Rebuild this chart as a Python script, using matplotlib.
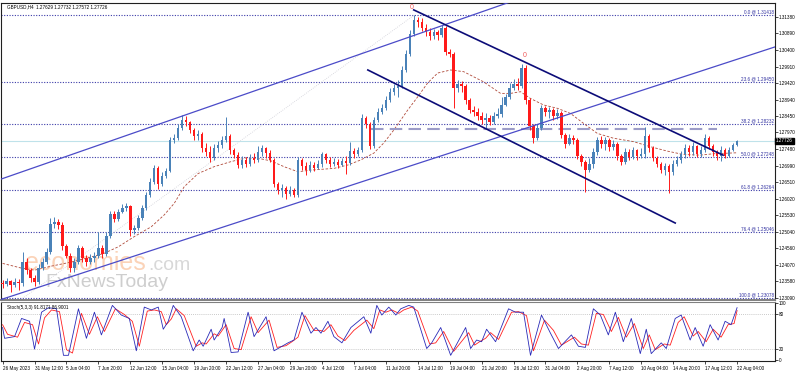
import matplotlib
matplotlib.use("Agg")
import matplotlib.pyplot as plt
import numpy as np

plt.rcParams['font.family'] = ['Liberation Sans', 'DejaVu Sans']

# header texts
symbol_text = "GBPUSD,H4  1.27629 1.27732 1.27572 1.27726"
stoch_text = "Stoch(5,3,3) 91.8171 86.9001"

# candles (each one spans 2 H4 bars), open = previous close
first_open = 1.2353
closes = [
    1.2350, 1.2359, 1.2347, 1.2356, 1.2353, 1.2415, 1.2391, 1.2368, 1.2356, 1.2397,
    1.2415, 1.2445, 1.2527, 1.2533, 1.2524, 1.2462, 1.2433, 1.2397, 1.2415, 1.2456,
    1.2427, 1.2415, 1.2427, 1.2433, 1.2456, 1.2439, 1.2492, 1.2557, 1.2542, 1.2562,
    1.2574, 1.2580, 1.2509, 1.2515, 1.2545, 1.2574, 1.2613, 1.2651, 1.2692, 1.2645,
    1.2668, 1.2683, 1.2775, 1.2780, 1.2810, 1.2834, 1.2828, 1.2804, 1.2786, 1.2792,
    1.2751, 1.2739, 1.2722, 1.2751, 1.2760, 1.2775, 1.2786, 1.2745, 1.2730, 1.2701,
    1.2716, 1.2704, 1.2722, 1.2716, 1.2739, 1.2751, 1.2736, 1.2716, 1.2645, 1.2627,
    1.2633, 1.2615, 1.2627, 1.2613, 1.2716, 1.2698, 1.2686, 1.2701, 1.2692, 1.2704,
    1.2733, 1.2716, 1.2704, 1.2710, 1.2701, 1.2713, 1.2707, 1.2742, 1.2733, 1.2745,
    1.2840, 1.2822, 1.2757, 1.2834, 1.2857, 1.2869, 1.2893, 1.2916, 1.2928, 1.2934,
    1.2981, 1.3028, 1.3087, 1.3128, 1.3122, 1.3105, 1.3093, 1.3081, 1.3093, 1.3084,
    1.3105, 1.3034, 1.3028, 1.2928, 1.2940, 1.2934, 1.2893, 1.2863, 1.2857, 1.2845,
    1.2834, 1.2840, 1.2828, 1.2845, 1.2851, 1.2878, 1.2901, 1.2928, 1.2940, 1.2934,
    1.2987, 1.2893, 1.2816, 1.2780, 1.2810, 1.2869, 1.2857, 1.2863, 1.2845, 1.2854,
    1.2789, 1.2763, 1.2780, 1.2775, 1.2727, 1.2710, 1.2686, 1.2704, 1.2739, 1.2775,
    1.2763, 1.2775, 1.2754, 1.2763, 1.2727, 1.2710, 1.2739, 1.2725, 1.2745, 1.2727,
    1.2733, 1.2786, 1.2751, 1.2722, 1.2704, 1.2686, 1.2698, 1.2680, 1.2704, 1.2716,
    1.2733, 1.2751, 1.2739, 1.2757, 1.2733, 1.2745, 1.2780, 1.2757, 1.2739, 1.2727,
    1.2745, 1.2727, 1.2745, 1.2760, 1.27726]
highs = [
    1.2362, 1.2368, 1.2362, 1.2368, 1.2365, 1.2445, 1.2427, 1.2397, 1.2377, 1.2409,
    1.2427, 1.2456, 1.2545, 1.2548, 1.2542, 1.2533, 1.2468, 1.2442, 1.2427, 1.2465,
    1.2462, 1.2436, 1.2439, 1.2445, 1.2503, 1.2465, 1.2503, 1.2565, 1.2565, 1.2571,
    1.2586, 1.2589, 1.2583, 1.2524, 1.2554, 1.2583, 1.2621, 1.2663, 1.2701, 1.2698,
    1.2680, 1.2692, 1.2783, 1.2792, 1.2822, 1.2848, 1.2845, 1.2831, 1.2810, 1.2804,
    1.2798, 1.2766, 1.2757, 1.2763, 1.2772, 1.2786, 1.2842, 1.2792, 1.2751, 1.2739,
    1.2727, 1.2725, 1.2733, 1.2736, 1.2757, 1.2760, 1.2754, 1.2745, 1.2722, 1.2651,
    1.2645, 1.2639, 1.2639, 1.2633, 1.2725, 1.2722, 1.2710, 1.2713, 1.2710, 1.2716,
    1.2739, 1.2736, 1.2725, 1.2722, 1.2719, 1.2722, 1.2727, 1.2769, 1.2751, 1.2754,
    1.2851, 1.2845, 1.2828, 1.2842, 1.2869, 1.2881, 1.2904, 1.2928, 1.2940, 1.2951,
    1.2993, 1.3040, 1.3099, 1.31418, 1.3137, 1.3134, 1.3116, 1.3105, 1.3103, 1.3099,
    1.3114, 1.3111, 1.3043, 1.3034, 1.2951, 1.2948, 1.2940, 1.2898, 1.2875, 1.2869,
    1.2857, 1.2854, 1.2848, 1.2857, 1.2869, 1.2901, 1.2910, 1.2943, 1.2954, 1.2957,
    1.2999, 1.2996, 1.2898, 1.2822, 1.2822, 1.2878, 1.2875, 1.2872, 1.2869, 1.2866,
    1.2860, 1.2795, 1.2792, 1.2789, 1.2780, 1.2733, 1.2716, 1.2722, 1.2751, 1.2783,
    1.2786, 1.2783, 1.2780, 1.2775, 1.2769, 1.2733, 1.2751, 1.2748, 1.2754, 1.2748,
    1.2751, 1.2813, 1.2792, 1.2757, 1.2727, 1.2710, 1.2707, 1.2704, 1.2716, 1.2727,
    1.2742, 1.2763, 1.2760, 1.2769, 1.2760, 1.2757, 1.2792, 1.2786, 1.2763, 1.2745,
    1.2757, 1.2751, 1.2754, 1.2766, 1.27732]
lows = [
    1.2338, 1.2344, 1.2327, 1.2341, 1.2333, 1.2344, 1.2380, 1.2356, 1.2344, 1.2350,
    1.2391, 1.2409, 1.2439, 1.2515, 1.2512, 1.2450, 1.2427, 1.2386, 1.2386, 1.2409,
    1.2415, 1.2403, 1.2409, 1.2415, 1.2427, 1.2427, 1.2433, 1.2486, 1.2533, 1.2536,
    1.2560, 1.2565, 1.2492, 1.2498, 1.2509, 1.2539, 1.2568, 1.2607, 1.2645, 1.2630,
    1.2639, 1.2663, 1.2680, 1.2766, 1.2775, 1.2804, 1.2816, 1.2795, 1.2775, 1.2775,
    1.2739, 1.2727, 1.2710, 1.2716, 1.2739, 1.2751, 1.2769, 1.2733, 1.2722, 1.2692,
    1.2692, 1.2695, 1.2698, 1.2707, 1.2710, 1.2727, 1.2722, 1.2710, 1.2636, 1.2615,
    1.2607, 1.2601, 1.2610, 1.2607, 1.2607, 1.2686, 1.2671, 1.2680, 1.2683, 1.2689,
    1.2695, 1.2707, 1.2695, 1.2698, 1.2692, 1.2698, 1.2674, 1.2701, 1.2722, 1.2727,
    1.2739, 1.2810, 1.2748, 1.2751, 1.2828, 1.2851, 1.2863, 1.2887, 1.2907, 1.2901,
    1.2928, 1.2975, 1.3022, 1.3081, 1.3108, 1.3096, 1.3081, 1.3069, 1.3072, 1.3069,
    1.3078, 1.3025, 1.3019, 1.2869, 1.2916, 1.2916, 1.2881, 1.2854, 1.2845, 1.2834,
    1.2822, 1.2810, 1.2819, 1.2822, 1.2840, 1.2842, 1.2875, 1.2895, 1.2922, 1.2922,
    1.2928, 1.2881, 1.2804, 1.2766, 1.2775, 1.2804, 1.2845, 1.2840, 1.2834, 1.2837,
    1.2780, 1.2751, 1.2760, 1.2763, 1.2719, 1.2698, 1.2621, 1.2680, 1.2692, 1.2730,
    1.2751, 1.2745, 1.2742, 1.2745, 1.2716, 1.2701, 1.2704, 1.2716, 1.2719, 1.2716,
    1.2722, 1.2722, 1.2739, 1.2713, 1.2695, 1.2677, 1.2671, 1.2618, 1.2671, 1.2698,
    1.2707, 1.2722, 1.2727, 1.2730, 1.2725, 1.2725, 1.2739, 1.2748, 1.2727, 1.2716,
    1.2713, 1.2722, 1.2725, 1.2742, 1.27572]

# moving average (bar index, price)
ma_bar = [0, 9.5, 16, 24.5, 34.5, 44.5, 51, 58, 66, 74.5, 81, 86, 91, 98, 106, 114.5,
          122, 129.5, 134.5, 141, 148, 154.5, 166, 173, 179.5, 186, 191, 196, 203, 208,
          213, 218, 224.5, 231, 241, 249.5, 254.5, 259.5, 264.5, 271, 278, 284.5, 291,
          298, 306, 316, 324.5, 333, 341, 349.5, 356, 368]
ma_price = [1.2411, 1.2397, 1.2391, 1.2403, 1.2415, 1.2430, 1.2441, 1.2460, 1.2490, 1.2519,
            1.2554, 1.2588, 1.2637, 1.2676, 1.2696, 1.2711, 1.2722, 1.2719, 1.2713, 1.2696,
            1.2681, 1.2686, 1.2691, 1.2701, 1.2716, 1.2736, 1.2766, 1.2804, 1.2863, 1.2902,
            1.2943, 1.2972, 1.2981, 1.2976, 1.2946, 1.2912, 1.2912, 1.2917, 1.2897, 1.2878,
            1.2868, 1.2853, 1.2824, 1.2794, 1.2780, 1.2770, 1.2755, 1.2742, 1.2732, 1.2730,
            1.2734, 1.2737]

# stochastic %K and %D (bar index, value)
k_bar = [0, 1, 6, 9.5, 13.5, 16, 19.5, 23, 27, 30.5, 33, 38, 42, 46, 49.5, 55, 59.5, 63.5,
         67, 71, 74.5, 78, 80.5, 83, 85.5, 89.5, 95.5, 98.5, 100.5, 104.5, 106, 110, 111,
         114.5, 118, 123, 126, 132, 136, 140, 143, 146, 150, 154.5, 157, 159.5, 163, 166,
         170, 174.5, 181, 184.5, 187.5, 190, 193.5, 197, 199.5, 203.5, 206, 212.5, 215,
         219.5, 224.5, 232, 234.5, 237.5, 240, 242.5, 247, 253.5, 257, 261, 264.5, 270,
         274.5, 278.5, 285, 288.5, 292, 296, 299.5, 303.5, 307, 311, 315, 319.5, 322.5,
         325, 330, 332.5, 337, 340, 344.5, 347, 351, 354.5, 358.5, 362, 365, 368]
k_val = [57, 38, 41, 73, 68, 19, 84, 92, 90, 8, 8, 90, 38, 84, 44, 96, 79, 73,
         16, 93, 88, 93, 54, 68, 96, 76, 16, 35, 24, 54, 35, 57, 73,
         13, 14, 84, 41, 76, 16, 24, 30, 35, 84, 47, 57, 47, 68, 41,
         30, 57, 76, 47, 96, 79, 93, 79, 90, 96, 93, 20, 30,
         57, 8, 57, 20, 35, 32, 54, 32, 90, 84, 84, 8, 79,
         47, 20, 44, 24, 22, 90, 79, 44, 84, 32, 73, 11, 54,
         11, 30, 20, 73, 79, 35, 57, 24, 62, 35, 68, 62, 92]
d_bar = [0, 2.5, 7.5, 11, 15, 18, 21, 24.5, 28.5, 32, 35, 39.5, 43.5, 47.5, 51, 56.5, 61,
         65, 68.5, 72.5, 76, 79.5, 82, 84.5, 87, 91, 97, 100, 102, 106, 108, 112, 116,
         119.5, 124.5, 128, 133.5, 137.5, 142, 145, 148, 151.5, 156, 159, 161, 164.5, 168,
         171.5, 176, 182.5, 186, 189, 192, 195, 198.5, 201, 205, 208, 214, 217, 221, 226,
         233.5, 236.5, 239, 242, 244.5, 248.5, 255, 258.5, 262.5, 266, 271.5, 276, 280,
         286.5, 290, 293.5, 297.5, 301, 305, 308.5, 312.5, 316.5, 321, 324, 327, 331.5,
         334.5, 338.5, 341.5, 346, 348.5, 352.5, 356, 360, 363.5, 366.5, 368]
d_val = [62, 45, 40, 66, 62, 28, 74, 88, 85, 18, 12, 82, 45, 76, 50, 90, 80,
         68, 24, 86, 88, 85, 62, 72, 90, 78, 24, 30, 28, 46, 42, 62, 20,
         18, 76, 48, 70, 22, 25, 32, 40, 78, 52, 52, 50, 62, 42,
         34, 52, 70, 55, 88, 84, 88, 82, 88, 93, 86, 28, 30, 50, 15,
         48, 26, 32, 38, 48, 36, 84, 85, 78, 16, 70, 52, 26,
         40, 28, 26, 82, 80, 50, 75, 40, 64, 20, 44, 18, 28,
         26, 66, 76, 42, 50, 32, 54, 40, 62, 64, 87]

# fibonacci retracement
fib_pct = ["0.0", "23.6", "38.2", "50.0", "61.8", "76.4", "100.0"]
fib_price = [1.31418, 1.29450, 1.28232, 1.27248, 1.26264, 1.25046, 1.23078]
fib_anchor_bar = [10, 206]
fib_anchor_price = [1.23078, 1.31418]

# trendlines: (bar, price) anchors
up_ch_top = ([-0.5, 279.5], [1.2660, 1.3233])
up_ch_bot = ([-0.5, 387], [1.2305, 1.3049])
dn_ch_top = ([206, 361], [1.3158, 1.2730])
dn_ch_bot = ([183, 337], [1.2981, 1.2530])
dash_level = 1.2806
dash_span = [184.5, 358]
last_price = 1.27726
marks_bar = [205, 261.5]
marks_price = [1.3165, 1.3025]

price_ticks = [1.31380, 1.30890, 1.30400, 1.29910, 1.29420, 1.28940, 1.28450, 1.27970,
               1.27480, 1.26990, 1.26510, 1.26020, 1.25530, 1.25040, 1.24560, 1.24070,
               1.23580, 1.23090]
date_labels = ["26 May 2023", "31 May 12:00", "5 Jun 04:00", "7 Jun 20:00", "12 Jun 12:00",
               "15 Jun 04:00", "19 Jun 20:00", "22 Jun 12:00", "27 Jun 04:00", "29 Jun 20:00",
               "4 Jul 12:00", "7 Jul 04:00", "11 Jul 20:00", "14 Jul 12:00", "19 Jul 04:00",
               "21 Jul 20:00", "26 Jul 12:00", "31 Jul 04:00", "2 Aug 20:00", "7 Aug 12:00",
               "10 Aug 04:00", "14 Aug 20:00", "17 Aug 12:00", "22 Aug 04:00"]

W, H = 798, 372
fs = 3.3
fig = plt.figure(figsize=(W / 100, H / 100), dpi=100)
ax = fig.add_axes([1 / W, 1 - 300 / H, 774 / W, 297 / H])
ax2 = fig.add_axes([1 / W, 1 - 361 / H, 774 / W, 59 / H])

c = np.array(closes)
o = np.concatenate(([first_open], c[:-1]))
hi = np.array(highs)
lo = np.array(lows)
x = np.arange(len(c)) * 2
cols = np.where(c >= o, '#4a82b8', '#ff1a1a')

# watermark (under the candles)
ax.text(25 / W, 1 - 270 / H, "economies", transform=fig.transFigure, fontsize=18,
        color='#fbd3b8', zorder=0.5)
ax.text(148 / W, 1 - 270 / H, ".com", transform=fig.transFigure, fontsize=14,
        color='#d8d8d8', zorder=0.5)
ax.text(45 / W, 1 - 287 / H, "FxNewsToday", transform=fig.transFigure, fontsize=14,
        color='#cecece', zorder=0.5)

# fib levels
for pct, p in zip(fib_pct, fib_price):
    ax.axhline(p, color='#3a3aa8', lw=0.8, ls=(0, (1, 1.4)), zorder=1)
    ax.text(386.5, p + 0.0002, f"{pct} @ {p:.5f}", ha='right', va='bottom',
            fontsize=fs, color='#3030a0', zorder=5)
ax.plot(fib_anchor_bar, fib_anchor_price, color='#d0d0d8', lw=0.6, ls=(0, (1, 1.5)), zorder=1)

# current price line
ax.axhline(last_price, color='#bfe2ea', lw=0.8, zorder=1)

# candles
ax.vlines(x, lo, hi, colors=cols, lw=0.7, zorder=3)
body = np.maximum(np.abs(c - o), 0.00006)
ax.bar(x, body, bottom=np.minimum(o, c), width=1.2, color=cols, lw=0, zorder=3)

# moving average
ax.plot(ma_bar, ma_price, color='#b04a3a', lw=0.6, ls=(0, (3, 2)), zorder=2)

# channels and levels
ax.plot(*up_ch_top, color='#4b4bc8', lw=0.9, zorder=4)
ax.plot(*up_ch_bot, color='#4b4bc8', lw=0.9, zorder=4)
ax.plot(*dn_ch_top, color='#0c0c78', lw=1.2, zorder=4)
ax.plot(*dn_ch_bot, color='#0c0c78', lw=1.2, zorder=4)
ax.plot(dash_span, [dash_level, dash_level], color='#9c9cc8', lw=1.5, ls=(0, (6, 3)), zorder=2)
for b, p in zip(marks_bar, marks_price):
    ax.text(b, p, "0", ha='center', va='center', fontsize=5, color='#f05a5a', zorder=6)

ax.text(2, 1.3167, symbol_text, fontsize=fs, va='center', ha='left', zorder=6)

ax.set_xlim(-0.8, 387)
ax.set_ylim(1.23031, 1.31784)
ax.yaxis.tick_right()
ax.set_yticks(price_ticks)
ax.set_yticklabels([f"{t:.5f}" for t in price_ticks])
ax.tick_params(axis='y', labelsize=fs, length=2, width=0.5, pad=1)
ax.set_xticks([])
ax.text(1.0015, last_price, f"{last_price:.5f}", transform=ax.get_yaxis_transform(),
        ha='left', va='center', fontsize=fs, color='white', zorder=7,
        bbox=dict(facecolor='black', edgecolor='black', boxstyle='square,pad=0.15'))
for s in ax.spines.values():
    s.set_linewidth(0.8)
    s.set_color('#202020')
ax.spines['bottom'].set_color('#808080')
ax.spines['bottom'].set_linewidth(1.4)

# stochastic pane
ax2.axhline(20, color='#b8b8b8', lw=0.6, ls=(0, (1, 1.5)))
ax2.axhline(80, color='#b8b8b8', lw=0.6, ls=(0, (1, 1.5)))
ax2.plot(d_bar, d_val, color='#ff2020', lw=0.6)
ax2.plot(k_bar, k_val, color='#2a2ab8', lw=0.6)
ax2.text(2, 97, stoch_text, fontsize=fs, va='top', ha='left')
ax2.set_xlim(-0.8, 387)
ax2.set_ylim(-2, 102)
ax2.yaxis.tick_right()
ax2.set_yticks([0, 20, 80, 100])
ax2.set_yticklabels(["0", "20", "80", "100"])
ax2.tick_params(axis='y', labelsize=fs, length=2, width=0.5, pad=1)
ax2.set_xticks(np.arange(0, 369, 16))
ax2.set_xticklabels(date_labels, ha='left')
ax2.tick_params(axis='x', labelsize=fs, length=2, width=0.5, pad=1.5)
for s in ax2.spines.values():
    s.set_linewidth(0.8)
    s.set_color('#202020')
ax2.spines['top'].set_color('#808080')

fig.savefig("out.png", dpi=100)
